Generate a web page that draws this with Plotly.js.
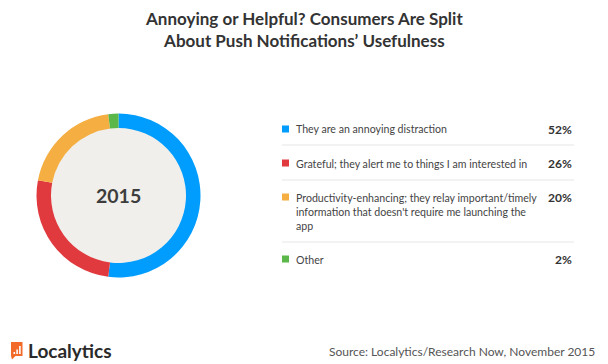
<!DOCTYPE html>
<html>
<head>
<meta charset="utf-8">
<script src="https://cdn.plot.ly/plotly-3.0.1.min.js"></script>
<style>html,body{margin:0;padding:0;background:#fff;}#chart{width:608px;height:364px;}</style>
</head>
<body>
<div id="chart"></div>
<script>
var categories = [
  "They are an annoying distraction",
  "Grateful; they alert me to things I am interested in",
  "Productivity-enhancing; they relay important/timely<br>information that doesn't require me launching the<br>app",
  "Other"
];
var values = [52, 26, 20, 2];
var valueLabels = ["52%", "26%", "20%", "2%"];
var colors = ["#009dff", "#e0393e", "#f5ae41", "#5bb749"];
var centerLabel = "2015";
var titleText = "Annoying or Helpful? Consumers Are Split<br>About Push Notifications’ Usefulness";
var sourceText = "Source: Localytics/Research Now, November 2015";

var W = 608, H = 364;
function px(x){return x/W;}
function py(y){return 1 - y/H;}

var cx = 118.5, cy = 195.5, R = 82, rIn = 67.5;

var trace = {
  type: 'pie',
  values: values,
  labels: categories,
  marker: {colors: colors, line: {width: 0}},
  hole: rIn / R,
  sort: false,
  direction: 'clockwise',
  rotation: 0,
  textinfo: 'none',
  hoverinfo: 'none',
  showlegend: false,
  domain: {x: [px(cx - R), px(cx + R)], y: [py(cy + R), py(cy - R)]}
};

var shapes = [{
  type: 'circle', xref: 'paper', yref: 'paper', layer: 'below',
  x0: px(cx - rIn - 1), x1: px(cx + rIn + 1), y0: py(cy + rIn + 1), y1: py(cy - rIn - 1),
  fillcolor: '#f0efeb', line: {width: 0}
}];
var annotations = [];

var rowY = [129, 163, 197, 259];
var sepY = [145, 180, 242];
var textFont = {family: 'Lato, sans-serif', size: 10.6, color: '#444444'};

for (var i = 0; i < categories.length; i++) {
  shapes.push({
    type: 'rect', xref: 'paper', yref: 'paper',
    x0: px(282), x1: px(289), y0: py(rowY[i] + 3.5), y1: py(rowY[i] - 3.5),
    fillcolor: colors[i], line: {width: 0}
  });
  annotations.push({
    xref: 'paper', yref: 'paper', x: px(294), y: py(rowY[i] - 7.5),
    xanchor: 'left', yanchor: 'top', align: 'left', showarrow: false,
    text: categories[i], font: textFont
  });
  annotations.push({
    xref: 'paper', yref: 'paper', x: px(574), y: py(rowY[i]),
    xanchor: 'right', yanchor: 'middle', align: 'right', showarrow: false,
    text: '<b>' + valueLabels[i] + '</b>',
    font: {family: 'Lato, sans-serif', size: 12, color: '#333333'}
  });
}
for (var j = 0; j < sepY.length; j++) {
  shapes.push({
    type: 'line', xref: 'paper', yref: 'paper',
    x0: px(282), x1: px(574), y0: py(sepY[j]), y1: py(sepY[j]),
    line: {color: '#e6e6e6', width: 1}
  });
}

annotations.push({
  xref: 'paper', yref: 'paper', x: px(cx), y: py(cy),
  xanchor: 'center', yanchor: 'middle', showarrow: false,
  text: '<b>' + centerLabel + '</b>',
  font: {family: 'Lato, sans-serif', size: 19.5, color: '#3d3d3d'}
});

// title
annotations.push({
  xref: 'paper', yref: 'paper', x: 0.5, y: py(6),
  xanchor: 'center', yanchor: 'top', showarrow: false, align: 'center',
  text: '<b>' + titleText + '</b>',
  font: {family: 'Lato, sans-serif', size: 17, color: '#333333'}
});

// footer logo
shapes.push({
  type: 'rect', xref: 'paper', yref: 'paper',
  x0: px(11), x1: px(22.5), y0: py(356), y1: py(342),
  fillcolor: '#f26b2a', line: {width: 0}
});
shapes.push({
  type: 'path', xref: 'paper', yref: 'paper',
  path: 'M ' + px(11) + ' ' + py(356) + ' L ' + px(15.5) + ' ' + py(356) + ' L ' + px(12) + ' ' + py(359.5) + ' Z',
  fillcolor: '#f26b2a', line: {width: 0}
});
var bars = [[13.5, 352], [16.3, 349.5], [19.1, 346]];
bars.forEach(function(b){
  shapes.push({
    type: 'rect', xref: 'paper', yref: 'paper',
    x0: px(b[0]), x1: px(b[0] + 1.6), y0: py(354), y1: py(b[1]),
    fillcolor: '#ffffff', line: {width: 0}
  });
});
annotations.push({
  xref: 'paper', yref: 'paper', x: px(26), y: py(350),
  xanchor: 'left', yanchor: 'middle', showarrow: false,
  text: '<b>Localytics</b>',
  font: {family: 'Lato, sans-serif', size: 19, color: '#2a2a2a'}
});
annotations.push({
  xref: 'paper', yref: 'paper', x: px(597), y: py(351),
  xanchor: 'right', yanchor: 'middle', showarrow: false,
  text: sourceText,
  font: {family: 'Lato, sans-serif', size: 12, color: '#555555'}
});

var layout = {
  width: W, height: H,
  margin: {l: 0, r: 0, t: 0, b: 0},
  paper_bgcolor: '#ffffff',
  shapes: shapes,
  annotations: annotations
};

Plotly.newPlot('chart', [trace], layout, {displayModeBar: false, staticPlot: true});
</script>
</body>
</html>
